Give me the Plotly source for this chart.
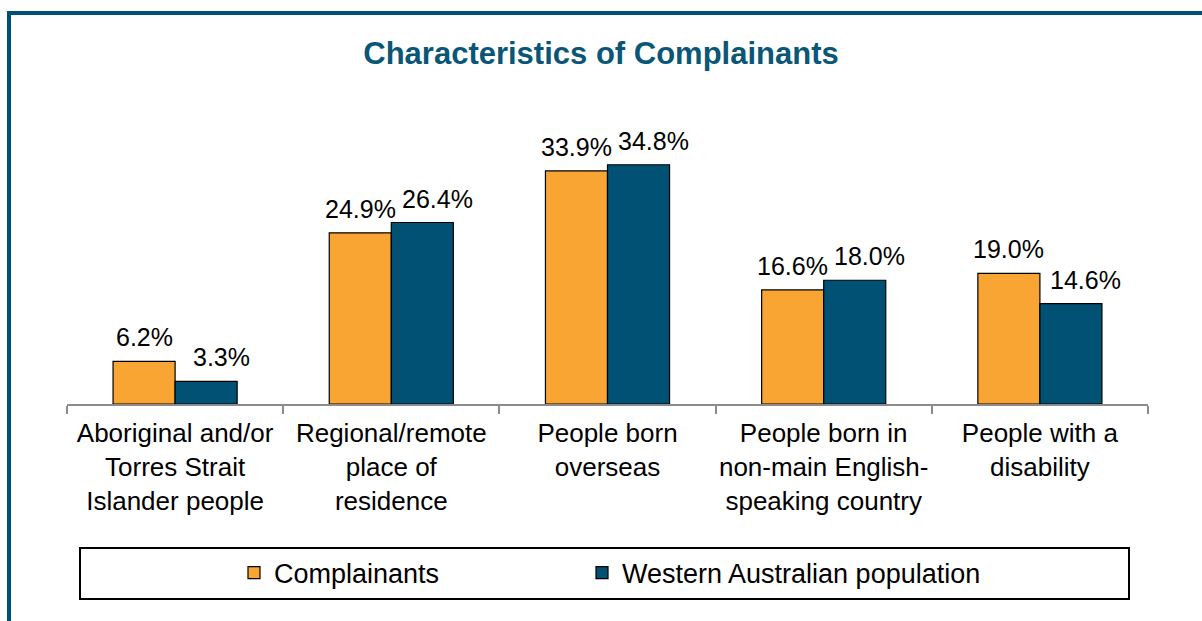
import plotly.graph_objects as go

categories = [
    "Aboriginal and/or<br>Torres Strait<br>Islander people",
    "Regional/remote<br>place of<br>residence",
    "People born<br>overseas",
    "People born in<br>non-main English-<br>speaking country",
    "People with a<br>disability",
]
complainants = [6.2, 24.9, 33.9, 16.6, 19.0]
wa_population = [3.3, 26.4, 34.8, 18.0, 14.6]
series_names = ["Complainants", "Western Australian population"]

ORANGE = "#F9A533"
BLUE = "#005173"
FONT = "Arial, Liberation Sans, sans-serif"

W, H = 1202, 621
ML, MR, MT, MB = 67, 54, 129, 217
PW = W - ML - MR
PH = H - MT - MB
BAR_PX = PW / len(categories) * (1 - 0.426) / 2


def px_x(p):
    return (p - ML) / PW


def px_y(p):
    return (H - MB - p) / PH


fig = go.Figure()
series = [(series_names[0], complainants, ORANGE, "legend", -BAR_PX / 2),
          (series_names[1], wa_population, BLUE, "legend2", BAR_PX / 2 + 15)]
annotations = []
for name, vals, col, leg, shift in series:
    fig.add_trace(go.Bar(
        name=name, x=categories, y=vals, legend=leg,
        marker=dict(color=col, line=dict(color="#000000", width=1.2)),
        hoverinfo="skip",
    ))
    for c, v in zip(categories, vals):
        annotations.append(dict(
            x=c, y=v, xref="x", yref="y", text=f"{v:.1f}%", showarrow=False,
            xanchor="center", yanchor="bottom", xshift=shift, yshift=8,
            font=dict(family=FONT, size=25, color="#000000")))

leg_common = dict(orientation="h", xanchor="left", yanchor="middle",
                  y=px_y(573), font=dict(family=FONT, size=27, color="#000000"),
                  bgcolor="rgba(0,0,0,0)", borderwidth=0)

fig.update_layout(
    width=W, height=H,
    margin=dict(l=ML, r=MR, t=MT, b=MB),
    paper_bgcolor="white", plot_bgcolor="white",
    barmode="group", bargap=0.426, bargroupgap=0,
    title=dict(text="<b>Characteristics of Complainants</b>",
               font=dict(family=FONT, size=31, color="#0A5677"),
               x=0.5, xanchor="center", y=1 - 53 / H, yanchor="middle",
               xref="container", yref="container"),
    font=dict(family=FONT, size=26, color="#000000"),
    showlegend=True,
    legend=dict(x=px_x(234), **leg_common),
    legend2=dict(x=px_x(582), **leg_common),
    xaxis=dict(showline=True, linecolor="#8C8C8C", linewidth=1.5,
               ticks="outside", tickson="boundaries", ticklen=8, tickcolor="#8C8C8C",
               tickwidth=1.5, showgrid=False, tickangle=0, ticklabelstandoff=5,
               tickfont=dict(family=FONT, size=26, color="#000000")),
    yaxis=dict(range=[0, 40], visible=False, showgrid=False, zeroline=False),
    annotations=annotations,
    shapes=[
        dict(type="line", xref="paper", yref="paper", x0=px_x(9), x1=px_x(9),
             y0=px_y(12), y1=px_y(H + 5), line=dict(color=BLUE, width=4)),
        dict(type="line", xref="paper", yref="paper", x0=px_x(7), x1=px_x(W + 5),
             y0=px_y(13), y1=px_y(13), line=dict(color=BLUE, width=4)),
        dict(type="rect", xref="paper", yref="paper", x0=px_x(80), x1=px_x(1129),
             y0=px_y(599), y1=px_y(548), line=dict(color="#000000", width=2)),
    ],
)

fig.write_html("out.html", config={"displayModeBar": False},
               post_script="document.body.style.margin='0';document.body.style.overflow='hidden';")
